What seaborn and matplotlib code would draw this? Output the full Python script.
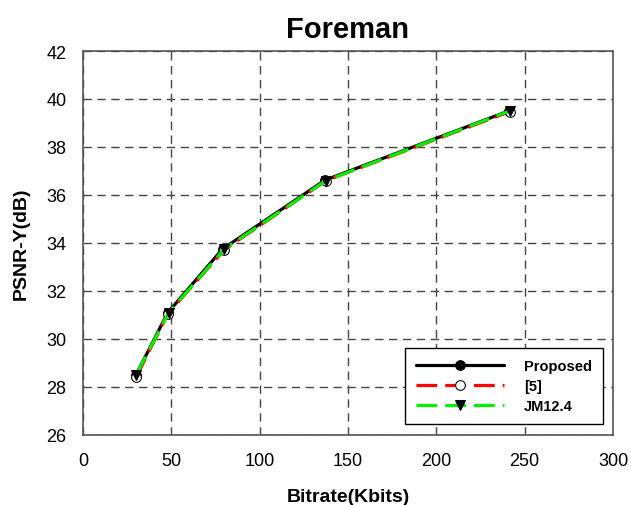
import matplotlib
matplotlib.use("Agg")
import matplotlib.pyplot as plt
import seaborn as sns
import pandas as pd

prop_x = [30, 48, 79, 137, 241]
prop_y = [28.5, 31.1, 33.75, 36.62, 39.5]
ref5_x = [30, 48, 80, 137.5, 241.5]
ref5_y = [28.4, 31.05, 33.72, 36.6, 39.47]
jm_x = [30, 48.5, 80, 137.5, 241.5]
jm_y = [28.5, 31.1, 33.75, 36.6, 39.5]
x_ticks = [0, 50, 100, 150, 200, 250, 300]
y_ticks = [26, 28, 30, 32, 34, 36, 38, 40, 42]

sns.set_style("white")
plt.rcParams['font.family'] = ['Liberation Sans', 'DejaVu Sans']
plt.rcParams['text.color'] = 'black'
plt.rcParams['axes.labelcolor'] = 'black'
plt.rcParams['xtick.color'] = 'black'
plt.rcParams['ytick.color'] = 'black'

fig = plt.figure(figsize=(6.31, 5.06), dpi=100)
ax = fig.add_axes([83/631, 1-436/506, 530/631, 384/506])

df_p = pd.DataFrame({"x": prop_x, "y": prop_y})
df_r = pd.DataFrame({"x": ref5_x, "y": ref5_y})
df_j = pd.DataFrame({"x": jm_x, "y": jm_y})

sns.lineplot(data=df_p, x="x", y="y", ax=ax, color="black", lw=2.3,
             marker="o", markersize=7, markerfacecolor="black",
             markeredgecolor="black", label="Proposed", zorder=3)
sns.lineplot(data=df_r, x="x", y="y", ax=ax, color="red", lw=2.3,
             dashes=(6.5, 2.5), marker="o", markersize=7, markerfacecolor="white",
             markeredgecolor="black", label="[5]", zorder=4)
sns.lineplot(data=df_j, x="x", y="y", ax=ax, color="#00ee00", lw=2.3,
             dashes=(6.5, 2.5), marker="v", markersize=7, markerfacecolor="black",
             markeredgecolor="black", label="JM12.4", zorder=5)

ax.set_xlim(0, 300)
ax.set_ylim(26, 42)
ax.set_xticks(x_ticks)
ax.set_yticks(y_ticks)
ax.grid(True, color="#444444", linestyle=(0, (6, 4)), lw=1.0)
ax.set_axisbelow(True)
for s in ax.spines.values():
    s.set_color("#555555")
    s.set_linewidth(1.2)
ax.tick_params(axis="both", direction="out", length=5, width=1, color="#555555",
               labelsize=13, pad=7)

ax.set_title("Foreman", fontsize=21, fontweight="bold", pad=10)
ax.set_xlabel("Bitrate(Kbits)", fontsize=14, fontweight="bold", labelpad=14)
ax.set_ylabel("PSNR-Y(dB)", fontsize=14, fontweight="bold", labelpad=12)

leg = ax.legend(loc="lower right", bbox_to_anchor=(0.981, 0.029), frameon=True,
                fancybox=False, edgecolor="black", framealpha=1, handlelength=6.0,
                borderpad=0.75, labelspacing=0.4, handletextpad=1.4,
                borderaxespad=0,
                prop={"weight": "bold", "size": 10.5})
leg.get_frame().set_linewidth(1.0)

fig.savefig("out.png", dpi=100)
